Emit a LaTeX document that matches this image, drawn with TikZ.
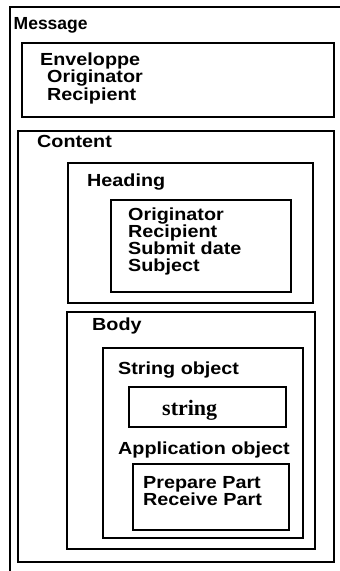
\documentclass[tikz,border=0pt]{standalone}
\usepackage{fontspec}
\setmainfont{Liberation Sans}[FakeStretch=1.13]
\newfontfamily\plainsans{Liberation Sans}
\newfontfamily\seriflab{Liberation Serif}
\begin{document}
\begin{tikzpicture}[x=1pt,y=-1pt,
  box/.style={draw=black,line width=2pt},
  lbl/.style={anchor=base west,inner sep=0pt,font=\fontsize{17.5}{17.5}\selectfont\bfseries},
  slbl/.style={anchor=base west,inner sep=0pt,font=\seriflab\fontsize{22}{22}\selectfont\bfseries}]
\useasboundingbox (0,0) rectangle (340,571);
\fill[white] (0,0) rectangle (340,571);
% outer Message box (only top and left visible)
\draw[box,line width=2.4pt] (10,572) -- (10,7) -- (341,7);
\node[lbl,font=\plainsans\fontsize{17.5}{17.5}\selectfont\bfseries] (message) at (13.5,29.5) {Message};
% Envelope
\draw[box] (22,43) rectangle (334,117);
\node[lbl] (env) at (40,65) {Enveloppe};
\node[lbl] (envorig) at (47,82.5) {Originator};
\node[lbl] (envrec) at (47,100) {Recipient};
% Content
\draw[box] (18,131) rectangle (334,562);
\node[lbl] (content) at (37,147) {Content};
% Heading
\draw[box] (68,162.5) rectangle (313,303);
\node[lbl] (heading) at (87,186.5) {Heading};
\draw[box] (111,200) rectangle (291,292);
\node[lbl] (horig) at (128,220) {Originator};
\node[lbl] (hrec) at (128,237) {Recipient};
\node[lbl] (hdate) at (128,254) {Submit date};
\node[lbl] (hsubj) at (128,271) {Subject};
% Body
\draw[box] (67,312) rectangle (315,549);
\node[lbl] (body) at (92,330.5) {Body};
\draw[box] (103,348) rectangle (303,538);
\node[lbl] (strobj) at (118,374) {String object};
\draw[box] (129,387) rectangle (286,427);
\node[slbl] (string) at (162,415) {string};
\node[lbl] (appobj) at (118,454) {Application object};
\draw[box] (133,464) rectangle (289,530);
\node[lbl] (prep) at (143,488) {Prepare Part};
\node[lbl] (recv) at (143,505) {Receive Part};
\end{tikzpicture}
\end{document}
